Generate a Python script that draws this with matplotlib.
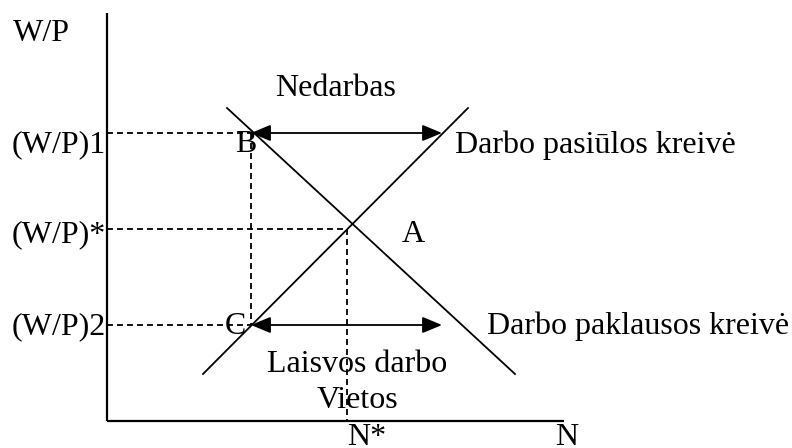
import matplotlib.pyplot as plt

plt.rcParams['font.family'] = ['Liberation Serif', 'DejaVu Serif']
plt.rcParams['lines.scale_dashes'] = False

# diagram coordinates (picture units, y grows downward)
origin = (107, 421)
axis_top = 13
axis_right = 564

demand_x = [227, 515]
demand_y = [108, 374]
supply_x = [203, 468]
supply_y = [374, 108]

wage_levels = [133, 229, 325]          # (W/P)1, (W/P)*, (W/P)2
wage_labels = ['(W/P)1', '(W/P)*', '(W/P)2']
wage_dash_end = [251, 347, 251]
n_star = 347
b_x = 251
arrow_right = 442

fig = plt.figure(figsize=(7.92, 4.48), dpi=100)
ax = fig.add_axes([0, 0, 1, 1])
ax.set_xlim(0, 792)
ax.set_ylim(448, 0)
ax.axis('off')

# axes
ax.plot([origin[0], origin[0]], [axis_top, origin[1]], color='black', lw=1.6, solid_capstyle='butt')
ax.plot([origin[0], axis_right], [origin[1], origin[1]], color='black', lw=1.6, solid_capstyle='butt')

# curves
ax.plot(demand_x, demand_y, color='black', lw=1.3)
ax.plot(supply_x, supply_y, color='black', lw=1.3)

# dashed guides
dash = dict(color='black', lw=1.3, dashes=(4.3, 2.9))
for y, xe in zip(wage_levels, wage_dash_end):
    ax.plot([origin[0], xe], [y, y], **dash)
ax.plot([b_x, b_x], [wage_levels[0], wage_levels[2]], **dash)
ax.plot([n_star, n_star], [wage_levels[1], origin[1]], **dash)

# double arrows
for y in (wage_levels[0], wage_levels[2]):
    ax.annotate('', xy=(b_x, y), xytext=(arrow_right, y),
                arrowprops=dict(arrowstyle='<|-|>,head_length=0.6,head_width=0.25',
                                color='black', lw=1.3, mutation_scale=20,
                                shrinkA=0, shrinkB=0))

fs = 23
txt = dict(fontsize=fs, va='baseline', color='black')
ax.text(13, 41, 'W/P', ha='left', **txt)
ax.text(275, 96, 'Nedarbas', ha='left', **txt)
baselines = [152, 242, 334]
for lab, yb in zip(wage_labels, baselines):
    ax.text(106, yb, lab, ha='right', **txt)
ax.text(235, 152, 'B', ha='left', **txt)
ax.text(402, 242, 'A', ha='left', **txt)
ax.text(225, 334, 'C', ha='left', **txt)
ax.text(455, 153, 'Darbo pasiūlos kreivė', ha='left', **txt)
ax.text(487, 334, 'Darbo paklausos kreivė', ha='left', **txt)
ax.text(357, 372, 'Laisvos darbo', ha='center', **txt)
ax.text(357, 408, 'Vietos', ha='center', **txt)
ax.text(347, 445, 'N*', ha='left', **txt)
ax.text(555, 445, 'N', ha='left', **txt)

fig.savefig('out.png', dpi=100)
